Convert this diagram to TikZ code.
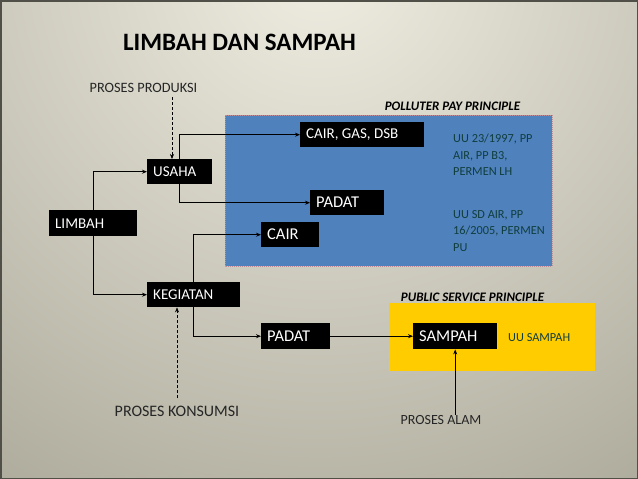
\documentclass[tikz,border=0pt]{standalone}
\usepackage{fontspec}
\setmainfont{Carlito}
\usetikzlibrary{arrows.meta}
\definecolor{bgLight}{RGB}{240,238,226}
\definecolor{bgDark}{RGB}{128,125,108}
\definecolor{frameC}{RGB}{80,80,72}
\definecolor{blueC}{RGB}{79,129,189}
\definecolor{pinkC}{RGB}{190,140,150}
\definecolor{yellowC}{RGB}{255,204,0}
\definecolor{tealC}{RGB}{16,62,62}
\tikzset{
  box/.style={fill=black, text=white, inner xsep=6pt, inner ysep=0pt, anchor=north west, align=flush left, minimum height=25pt, font=\fontsize{15}{17}\selectfont},
  bigbox/.style={box, font=\fontsize{16.5}{18}\selectfont},
  conn/.style={line width=0.8pt, -{Stealth[length=5pt,width=4pt]}},
  dconn/.style={line width=0.6pt, dash pattern=on 3pt off 2pt, -{Stealth[length=5pt,width=4pt]}},
  lbl/.style={text=black!85, font=\fontsize{14.3}{16}\selectfont, inner sep=0pt},
  law/.style={text=tealC, font=\fontsize{12.3}{16.5}\selectfont, align=flush left, anchor=north west, inner sep=0pt},
  hdr/.style={text=black, font=\fontsize{13}{15}\selectfont\bfseries\itshape, inner sep=0pt}
}
\begin{document}
\begin{tikzpicture}[x=1pt, y=-1pt]
\useasboundingbox (0,0) rectangle (638,479);
\begin{scope}
\clip (0,0) rectangle (638,479);
\shade[inner color=bgLight, outer color=bgDark] (320,-40) circle (1050);
\end{scope}
\draw[frameC, line width=1.5pt] (0.75,0.75) rectangle (637.25,478.25);

\node[font=\fontsize{25}{28}\selectfont\bfseries, inner sep=0pt] (title) at (239.5,42) {LIMBAH DAN SAMPAH};

% regions
\fill[blueC] (225,115) rectangle (552,266);
\draw[pinkC, line width=1pt, densely dotted] (225,115) rectangle (552,266);
\fill[yellowC] (389,303) rectangle (595,371);

\node[hdr] (ppp) at (452.5,106) {POLLUTER PAY PRINCIPLE};
\node[hdr] (psp) at (472.5,297) {PUBLIC SERVICE PRINCIPLE};

\node[lbl] (prod) at (143.5,88) {PROSES PRODUKSI};
\node[lbl, font=\fontsize{16}{18}\selectfont] (kons) at (177,411) {PROSES KONSUMSI};
\node[lbl, font=\fontsize{14}{16}\selectfont] (alam) at (441,420) {PROSES ALAM};

\node[law] (law1) at (453,134) {UU 23/1997, PP\\AIR, PP B3,\\PERMEN LH};
\node[law] (law2) at (453,210) {UU SD AIR, PP\\16/2005, PERMEN\\PU};
\node[law, anchor=west] (law3) at (508,338) {UU SAMPAH};

% boxes
\node[box, text width=112pt] (cgd) at (300,122) {CAIR, GAS, DSB};
\node[box, text width=53pt] (usaha) at (147,159) {USAHA};
\node[bigbox, text width=62pt] (padat1) at (310,190) {PADAT};
\node[box, text width=76pt, minimum height=26pt] (limbah) at (49,210) {LIMBAH};
\node[bigbox, text width=46pt] (cair) at (261,222) {CAIR};
\node[box, text width=81pt] (kegiatan) at (147,282) {KEGIATAN};
\node[bigbox, text width=57pt, minimum height=26pt] (padat2) at (261,323) {PADAT};
\node[bigbox, text width=72pt, minimum height=26pt] (sampah) at (413,323) {SAMPAH};

% connectors
\draw[conn] (limbah.north) |- (usaha.west);
\draw[conn] (limbah.south) |- (kegiatan.west);
\draw[conn] (usaha.north) |- (cgd.west);
\draw[conn] (usaha.south) |- (padat1.west);
\draw[conn] (kegiatan.north) |- (cair.west);
\draw[conn] (kegiatan.south) |- (padat2.west);
\draw[conn] (padat2.east) -- (sampah.west);
\draw[conn] (alam.north -| sampah.south) -- (sampah.south);

\coordinate (d1) at (172,97);
\draw[dconn] (d1) -- (d1 |- usaha.north);
\coordinate (d2) at (177,398);
\draw[dconn] (d2) -- (d2 |- kegiatan.south);
\end{tikzpicture}
\end{document}
